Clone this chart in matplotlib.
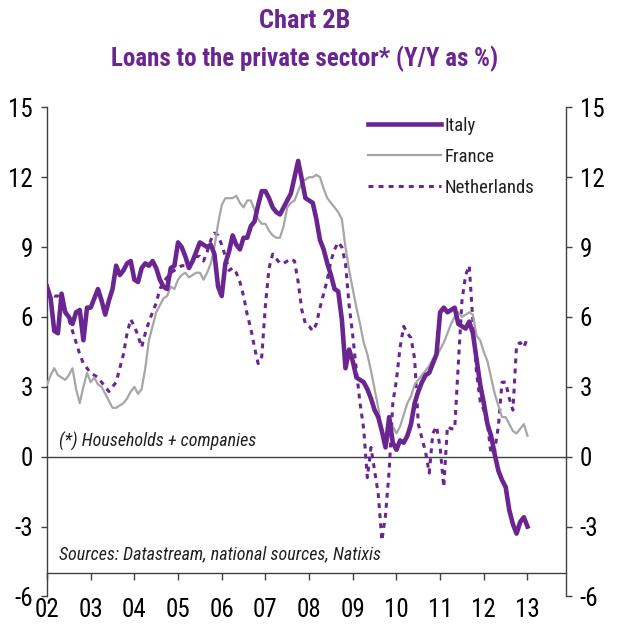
import numpy as np
import matplotlib
matplotlib.use('Agg')
import matplotlib.pyplot as plt

# fonte estreita parecida com Arial Narrow (com reserva)
plt.rcParams['font.family'] = ['Roboto Condensed', 'Liberation Sans', 'DejaVu Sans']

# dados mensais, jan/2002 ate jan/2013 (Y/Y em %)
italy = [7.3, 6.8, 5.4, 5.3, 7.0, 6.2, 6.0, 5.7, 6.2, 6.3, 5.0, 6.4,
         6.4, 6.8, 7.2, 6.7, 6.1, 6.7, 7.2, 8.2, 7.8, 8.0, 8.3, 8.4,
         7.6, 7.5, 8.1, 8.3, 8.2, 8.4, 8.1, 7.6, 7.3, 7.2, 8.1, 8.2,
         9.2, 9.0, 8.6, 8.1, 8.4, 8.8, 9.2, 9.1, 9.0, 9.1, 8.7, 7.3,
         6.9, 8.3, 8.8, 9.5, 9.1, 8.9, 9.4, 9.4, 9.9, 10.1, 10.8, 11.4,
         11.4, 11.1, 10.7, 10.5, 10.4, 10.7, 11.0, 11.3, 12.0, 12.7, 11.9, 11.1,
         11.0, 10.9, 10.2, 9.3, 8.9, 8.3, 7.8, 7.2, 7.1, 5.9, 3.8, 4.6,
         4.1, 3.4, 3.3, 3.2, 2.9, 2.5, 2.0, 1.7, 1.1, 0.4, 1.7, 0.6,
         0.3, 0.7, 0.6, 0.9, 1.4, 2.3, 2.8, 3.2, 3.5, 3.6, 4.0, 4.4,
         6.2, 6.4, 6.2, 6.3, 6.4, 5.7, 5.6, 5.5, 5.8, 5.3, 4.2, 3.1,
         2.3, 1.4, 0.9, 0.1, -0.6, -1.0, -1.3, -2.3, -2.9, -3.3, -2.8, -2.6,
         -3.0]

france = [3.1, 3.5, 3.8, 3.5, 3.4, 3.3, 3.5, 3.8, 2.9, 2.3, 3.0, 3.6,
          3.2, 3.4, 3.1, 3.0, 2.7, 2.4, 2.1, 2.1, 2.2, 2.3, 2.5, 2.8,
          3.0, 2.7, 2.9, 3.8, 5.0, 5.6, 6.2, 6.5, 6.8, 6.9, 7.3, 7.2,
          7.6, 7.8, 7.9, 7.7, 7.8, 7.9, 7.9, 7.6, 7.9, 8.3, 9.0, 10.0,
          10.8, 11.1, 11.1, 11.1, 11.2, 10.9, 10.7, 11.0, 11.0, 10.6, 10.2, 10.0,
          10.0, 9.7, 9.5, 9.4, 9.4, 9.9, 10.7, 10.9, 11.0, 11.4, 11.8, 11.9,
          12.0, 12.0, 12.1, 12.0, 11.5, 11.1, 10.9, 10.7, 10.5, 10.2, 9.0, 8.0,
          7.2, 6.4, 5.7, 4.9, 4.4, 3.7, 2.9, 2.1, 1.1, 0.4, 0.9, 1.3,
          1.0, 1.3, 1.8, 2.3, 2.6, 3.1, 3.3, 3.5, 3.7, 3.9, 4.2, 4.3,
          4.6, 4.9, 5.3, 5.7, 6.0, 6.2, 6.0, 6.1, 6.2, 6.1, 5.2, 5.0,
          4.5, 4.1, 3.4, 2.7, 2.2, 1.7, 1.7, 1.4, 1.1, 1.0, 1.2, 1.4,
          0.9]

netherlands = [7.2, 7.0, 6.9, 6.9, 6.7, 6.3, 5.9, 5.4, 4.9, 4.4, 4.0, 3.8,
               3.6, 3.5, 3.4, 3.2, 3.0, 2.8, 3.0, 3.2, 3.8, 4.4, 5.3, 5.9,
               5.6, 5.2, 4.7, 5.3, 5.8, 6.2, 6.6, 7.2, 7.5, 7.7, 7.9, 8.0,
               8.1, 8.2, 8.2, 8.2, 8.4, 8.6, 8.6, 8.4, 8.8, 9.3, 9.6, 9.5,
               9.1, 8.6, 8.0, 8.1, 7.9, 7.5, 6.9, 6.1, 5.5, 4.7, 4.0, 4.3,
               6.5, 8.1, 8.7, 8.5, 8.3, 8.3, 8.4, 8.5, 8.4, 7.5, 6.3, 5.7,
               5.6, 5.4, 5.7, 6.4, 7.0, 7.6, 8.4, 8.9, 9.2, 9.0, 8.3, 6.5,
               5.2, 3.7, 2.3, 1.2, -0.9, 0.4, -0.6, -1.6, -3.6, -2.5, -0.6, 2.3,
               3.3, 4.7, 5.6, 5.3, 5.1, 4.2, 1.4, 0.8, 0.2, -0.7, 1.0, 1.3,
               0.4, -1.3, 1.3, 1.2, 1.2, 4.0, 6.7, 7.8, 8.2, 5.8, 3.6, 2.4,
               2.0, 1.4, 0.1, 0.3, 1.3, 3.2, 3.2, 2.5, 2.0, 4.8, 4.9, 4.7,
               5.1]

anos = [2002, 2003, 2004, 2005, 2006, 2007, 2008, 2009, 2010, 2011, 2012, 2013]
rotulos_x = ['02', '03', '04', '05', '06', '07', '08', '09', '10', '11', '12', '13']
ticks_y = [-6, -3, 0, 3, 6, 9, 12, 15]

# eixo do tempo em anos decimais (um ponto por mes)
t = 2002 + np.arange(len(italy)) / 12.0

roxo = '#6A2590'
cinza = '#A6A6A6'
escuro = '#404040'

fig = plt.figure(figsize=(6.2, 6.28), dpi=100)
ax = fig.add_axes([0.0758, 0.0502, 0.837, 0.7789])

ax.plot(t, italy, color=roxo, lw=3.3, label='Italy', zorder=4)
ax.plot(t, france, color=cinza, lw=1.6, label='France', zorder=3)
ax.plot(t, netherlands, color=roxo, lw=2.2, dashes=(1.6, 1.7), label='Netherlands', zorder=2)

# linha do zero
ax.axhline(0, color=escuro, lw=1, zorder=1)

ax.set_xlim(2002, 2013.88)
ax.set_ylim(-6, 15)

# eixo x cruza em -5
ax.spines['top'].set_visible(False)
ax.spines['bottom'].set_position(('data', -5))
for s in ['left', 'right', 'bottom']:
    ax.spines[s].set_color(escuro)
    ax.spines[s].set_linewidth(1)

ax.set_xticks(anos)
ax.set_xticklabels(rotulos_x)
ax.set_yticks(ticks_y)
ax.set_yticklabels([str(v) for v in ticks_y])
ax.tick_params(axis='x', direction='out', length=5, width=1, color=escuro,
               labelsize=18, pad=13)
ax.tick_params(axis='y', direction='out', length=4, width=1, color=escuro,
               labelsize=18, pad=6, right=True, labelright=True)

# titulos
fig.text(0.492, 0.966, 'Chart 2B', ha='center', va='center',
         fontsize=19, fontweight='bold', color=roxo)
fig.text(0.492, 0.907, 'Loans to the private sector* (Y/Y as %)', ha='center',
         va='center', fontsize=18, fontweight='bold', color=roxo)

# notas
ax.text(2002.28, 0.65, '(*) Households + companies', style='italic',
        fontsize=13, color='#202020', va='center')
ax.text(2002.28, -4.2, 'Sources: Datastream, national sources, Natixis',
        style='italic', fontsize=13, color='#202020', va='center')

leg = ax.legend(loc='upper left', bbox_to_anchor=(0.618, 0.981), frameon=False,
                fontsize=13.5, handlelength=3.9, handletextpad=0.2,
                labelspacing=0.7, borderpad=0, borderaxespad=0)
for txt in leg.get_texts():
    txt.set_color('#202020')

fig.savefig('out.png', dpi=100)
